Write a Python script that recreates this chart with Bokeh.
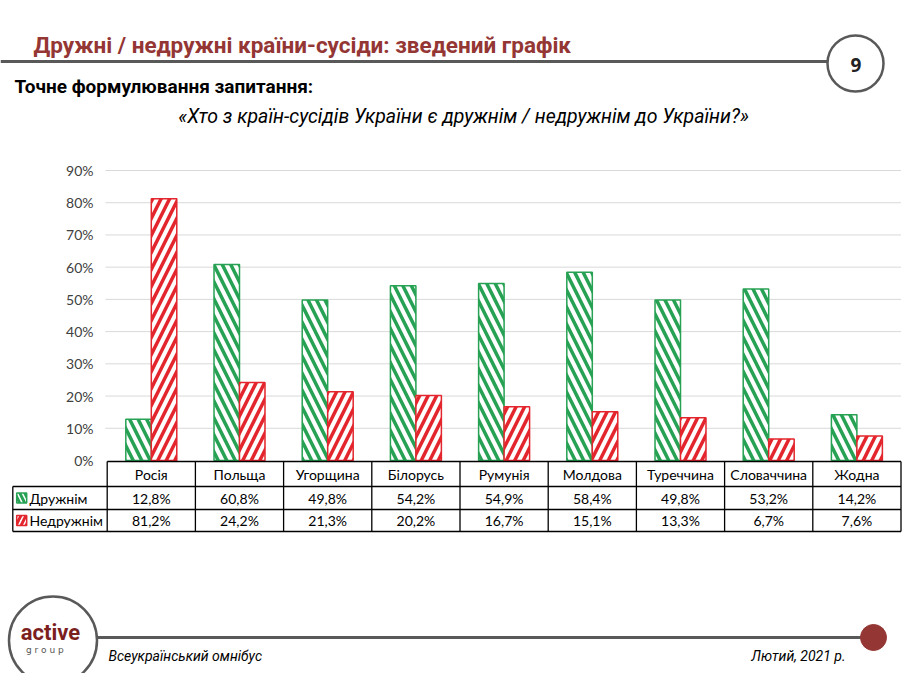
import numpy as np
from bokeh.plotting import figure
from bokeh.models import Range1d
from bokeh.embed import file_html
from bokeh.resources import INLINE
from bokeh.core.properties import value

# ---------------- data ----------------
categories = ["Росія", "Польща", "Угорщина", "Білорусь", "Румунія",
              "Молдова", "Туреччина", "Словаччина", "Жодна"]
friendly = [12.8, 60.8, 49.8, 54.2, 54.9, 58.4, 49.8, 53.2, 14.2]
unfriendly = [81.2, 24.2, 21.3, 20.2, 16.7, 15.1, 13.3, 6.7, 7.6]
series_names = ["Дружнім", "Недружнім"]
y_ticks = [0, 10, 20, 30, 40, 50, 60, 70, 80, 90]

title_text = "Дружні / недружні країни-сусіди: зведений графік"
subtitle_text = "Точне формулювання запитання:"
question_text = "«Хто з країн-сусідів України є дружнім / недружнім до України?»"
page_number = "9"
footer_left = "Всеукраїнський омнібус"
footer_right = "Лютий, 2021 р."

# ---------------- styles / layout ----------------
GREEN = "#27A153"
RED = "#E3262D"
DARKRED = "#943634"
GRAY = "#595959"
TABLE_FONT = value("Lato")
HEAD_FONT = value("Roboto")

W, H = 902, 673
CAT_X0 = 106.7    # x of first category column
CAT_W = 88.2      # px per category
Y0 = 460.0        # y of 0%
PX_PER = 290.0 / 90.0
BAR_W = 0.289

def fmt(v):
    return f"{v:.1f}".replace(".", ",") + "%"

p = figure(width=W, height=H,
           x_range=Range1d(0, W), y_range=Range1d(H, 0),
           x_axis_location=None, y_axis_location=None,
           output_backend="svg", toolbar_location=None, min_border=0)
p.grid.visible = False
p.outline_line_color = None
p.background_fill_color = "white"

p.extra_x_ranges = {"cat": Range1d(-CAT_X0 / CAT_W, (W - CAT_X0) / CAT_W)}
p.extra_y_ranges = {"pct": Range1d(-(H - Y0) / PX_PER, Y0 / PX_PER)}

n = len(categories)
idx = np.arange(n)

# ---------- header ----------
p.text(x=[33], y=[44], text=[title_text], text_font=HEAD_FONT, text_font_style="bold",
       text_font_size="22.5px", text_color=DARKRED, text_baseline="middle", text_align="left")
p.segment(x0=[0], x1=[830], y0=[61], y1=[61], line_color=GRAY, line_width=3)
p.circle(x=[855], y=[63], radius=28, fill_color="white", line_color=GRAY, line_width=2.5)
p.text(x=[855.5], y=[64], text=[page_number], text_font=value("Open Sans"), text_font_style="bold",
       text_font_size="19px", text_color="#222222", text_baseline="middle", text_align="center")
p.text(x=[14], y=[86], text=[subtitle_text], text_font=HEAD_FONT, text_font_style="bold",
       text_font_size="19px", text_color="black", text_baseline="middle", text_align="left")
p.text(x=[463], y=[116], text=[question_text], text_font=HEAD_FONT, text_font_style="italic",
       text_font_size="19.5px", text_color="black", text_baseline="middle", text_align="center")

# ---------- chart ----------
grid_ticks = [t for t in y_ticks if t > 0]
p.segment(x0=[-0.02] * len(grid_ticks), x1=[n] * len(grid_ticks), y0=grid_ticks, y1=grid_ticks,
          x_range_name="cat", y_range_name="pct", line_color="#D9D9D9", line_width=1)
p.text(x=[93] * len(y_ticks), y=y_ticks, text=[f"{t}%" for t in y_ticks],
       y_range_name="pct", text_font=TABLE_FONT, text_font_size="14px", text_color="#404040",
       text_align="right", text_baseline="middle")

p.vbar(x=idx + 0.5 - BAR_W / 2, top=friendly, bottom=0, width=BAR_W,
       x_range_name="cat", y_range_name="pct",
       fill_color="white", line_color=GREEN, line_width=1.5,
       hatch_pattern="left_diagonal_line", hatch_color=GREEN, hatch_scale=17, hatch_weight=3.5)
p.vbar(x=idx + 0.5 + BAR_W / 2, top=unfriendly, bottom=0, width=BAR_W,
       x_range_name="cat", y_range_name="pct",
       fill_color="white", line_color=RED, line_width=1.5,
       hatch_pattern="right_diagonal_line", hatch_color=RED, hatch_scale=17, hatch_weight=3.5)

# ---------- data table ----------
T_TOP, T_R1, T_R2, T_BOT = 461.0, 486.0, 509.0, 531.0
T_LEFT = 12.3
T_RIGHT = CAT_X0 + n * CAT_W
p.segment(x0=[CAT_X0, T_LEFT, T_LEFT, T_LEFT], x1=[T_RIGHT] * 4,
          y0=[T_TOP, T_R1, T_R2, T_BOT], y1=[T_TOP, T_R1, T_R2, T_BOT],
          line_color="black", line_width=1.3)
p.segment(x0=list(range(n + 1)), x1=list(range(n + 1)), y0=[T_TOP] * (n + 1), y1=[T_BOT] * (n + 1),
          x_range_name="cat", line_color="black", line_width=1.3)
p.segment(x0=[T_LEFT], x1=[T_LEFT], y0=[T_R1], y1=[T_BOT], line_color="black", line_width=1.3)

p.text(x=idx + 0.5, y=[(T_TOP + T_R1) / 2] * n, text=categories, x_range_name="cat",
       text_font=TABLE_FONT, text_font_size="14px", text_color="black",
       text_align="center", text_baseline="middle")
p.text(x=idx + 0.5, y=[(T_R1 + T_R2) / 2] * n, text=[fmt(v) for v in friendly], x_range_name="cat",
       text_font=TABLE_FONT, text_font_size="14px", text_color="black",
       text_align="center", text_baseline="middle")
p.text(x=idx + 0.5, y=[(T_R2 + T_BOT) / 2] * n, text=[fmt(v) for v in unfriendly], x_range_name="cat",
       text_font=TABLE_FONT, text_font_size="14px", text_color="black",
       text_align="center", text_baseline="middle")

# legend keys
p.rect(x=[21.2], y=[(T_R1 + T_R2) / 2], width=10, height=10, fill_color="white",
       line_color=GREEN, line_width=1.5, hatch_pattern="left_diagonal_line",
       hatch_color=GREEN, hatch_scale=10, hatch_weight=3)
p.rect(x=[21.2], y=[(T_R2 + T_BOT) / 2], width=10, height=10, fill_color="white",
       line_color=RED, line_width=1.5, hatch_pattern="right_diagonal_line",
       hatch_color=RED, hatch_scale=10, hatch_weight=3)
p.text(x=[29, 29], y=[(T_R1 + T_R2) / 2, (T_R2 + T_BOT) / 2], text=series_names,
       text_font=TABLE_FONT, text_font_size="14px", text_color="black",
       text_align="left", text_baseline="middle")

# ---------- footer ----------
p.segment(x0=[97], x1=[873], y0=[637], y1=[637], line_color=GRAY, line_width=3)
p.circle(x=[52.5], y=[640], radius=44, fill_color="white", line_color=GRAY, line_width=2.5)
p.circle(x=[873], y=[637], radius=13, fill_color=DARKRED, line_color=DARKRED)
p.text(x=[50], y=[632], text=["active"], text_font=HEAD_FONT, text_font_style="bold",
       text_font_size="22px", text_color="#7B1F1F", text_align="center", text_baseline="middle")
p.text(x=[50], y=[649], text=["g  r  o  u  p"], text_font=value("DejaVu Sans"),
       text_font_size="9px", text_color="#555555", text_align="center", text_baseline="middle")
p.text(x=[108], y=[655], text=[footer_left], text_font=HEAD_FONT, text_font_style="italic",
       text_font_size="14px", text_color="black", text_align="left", text_baseline="middle")
p.text(x=[845], y=[655], text=[footer_right], text_font=HEAD_FONT, text_font_style="italic",
       text_font_size="14px", text_color="black", text_align="right", text_baseline="middle")

open("out.html", "w").write(file_html(p, INLINE))
